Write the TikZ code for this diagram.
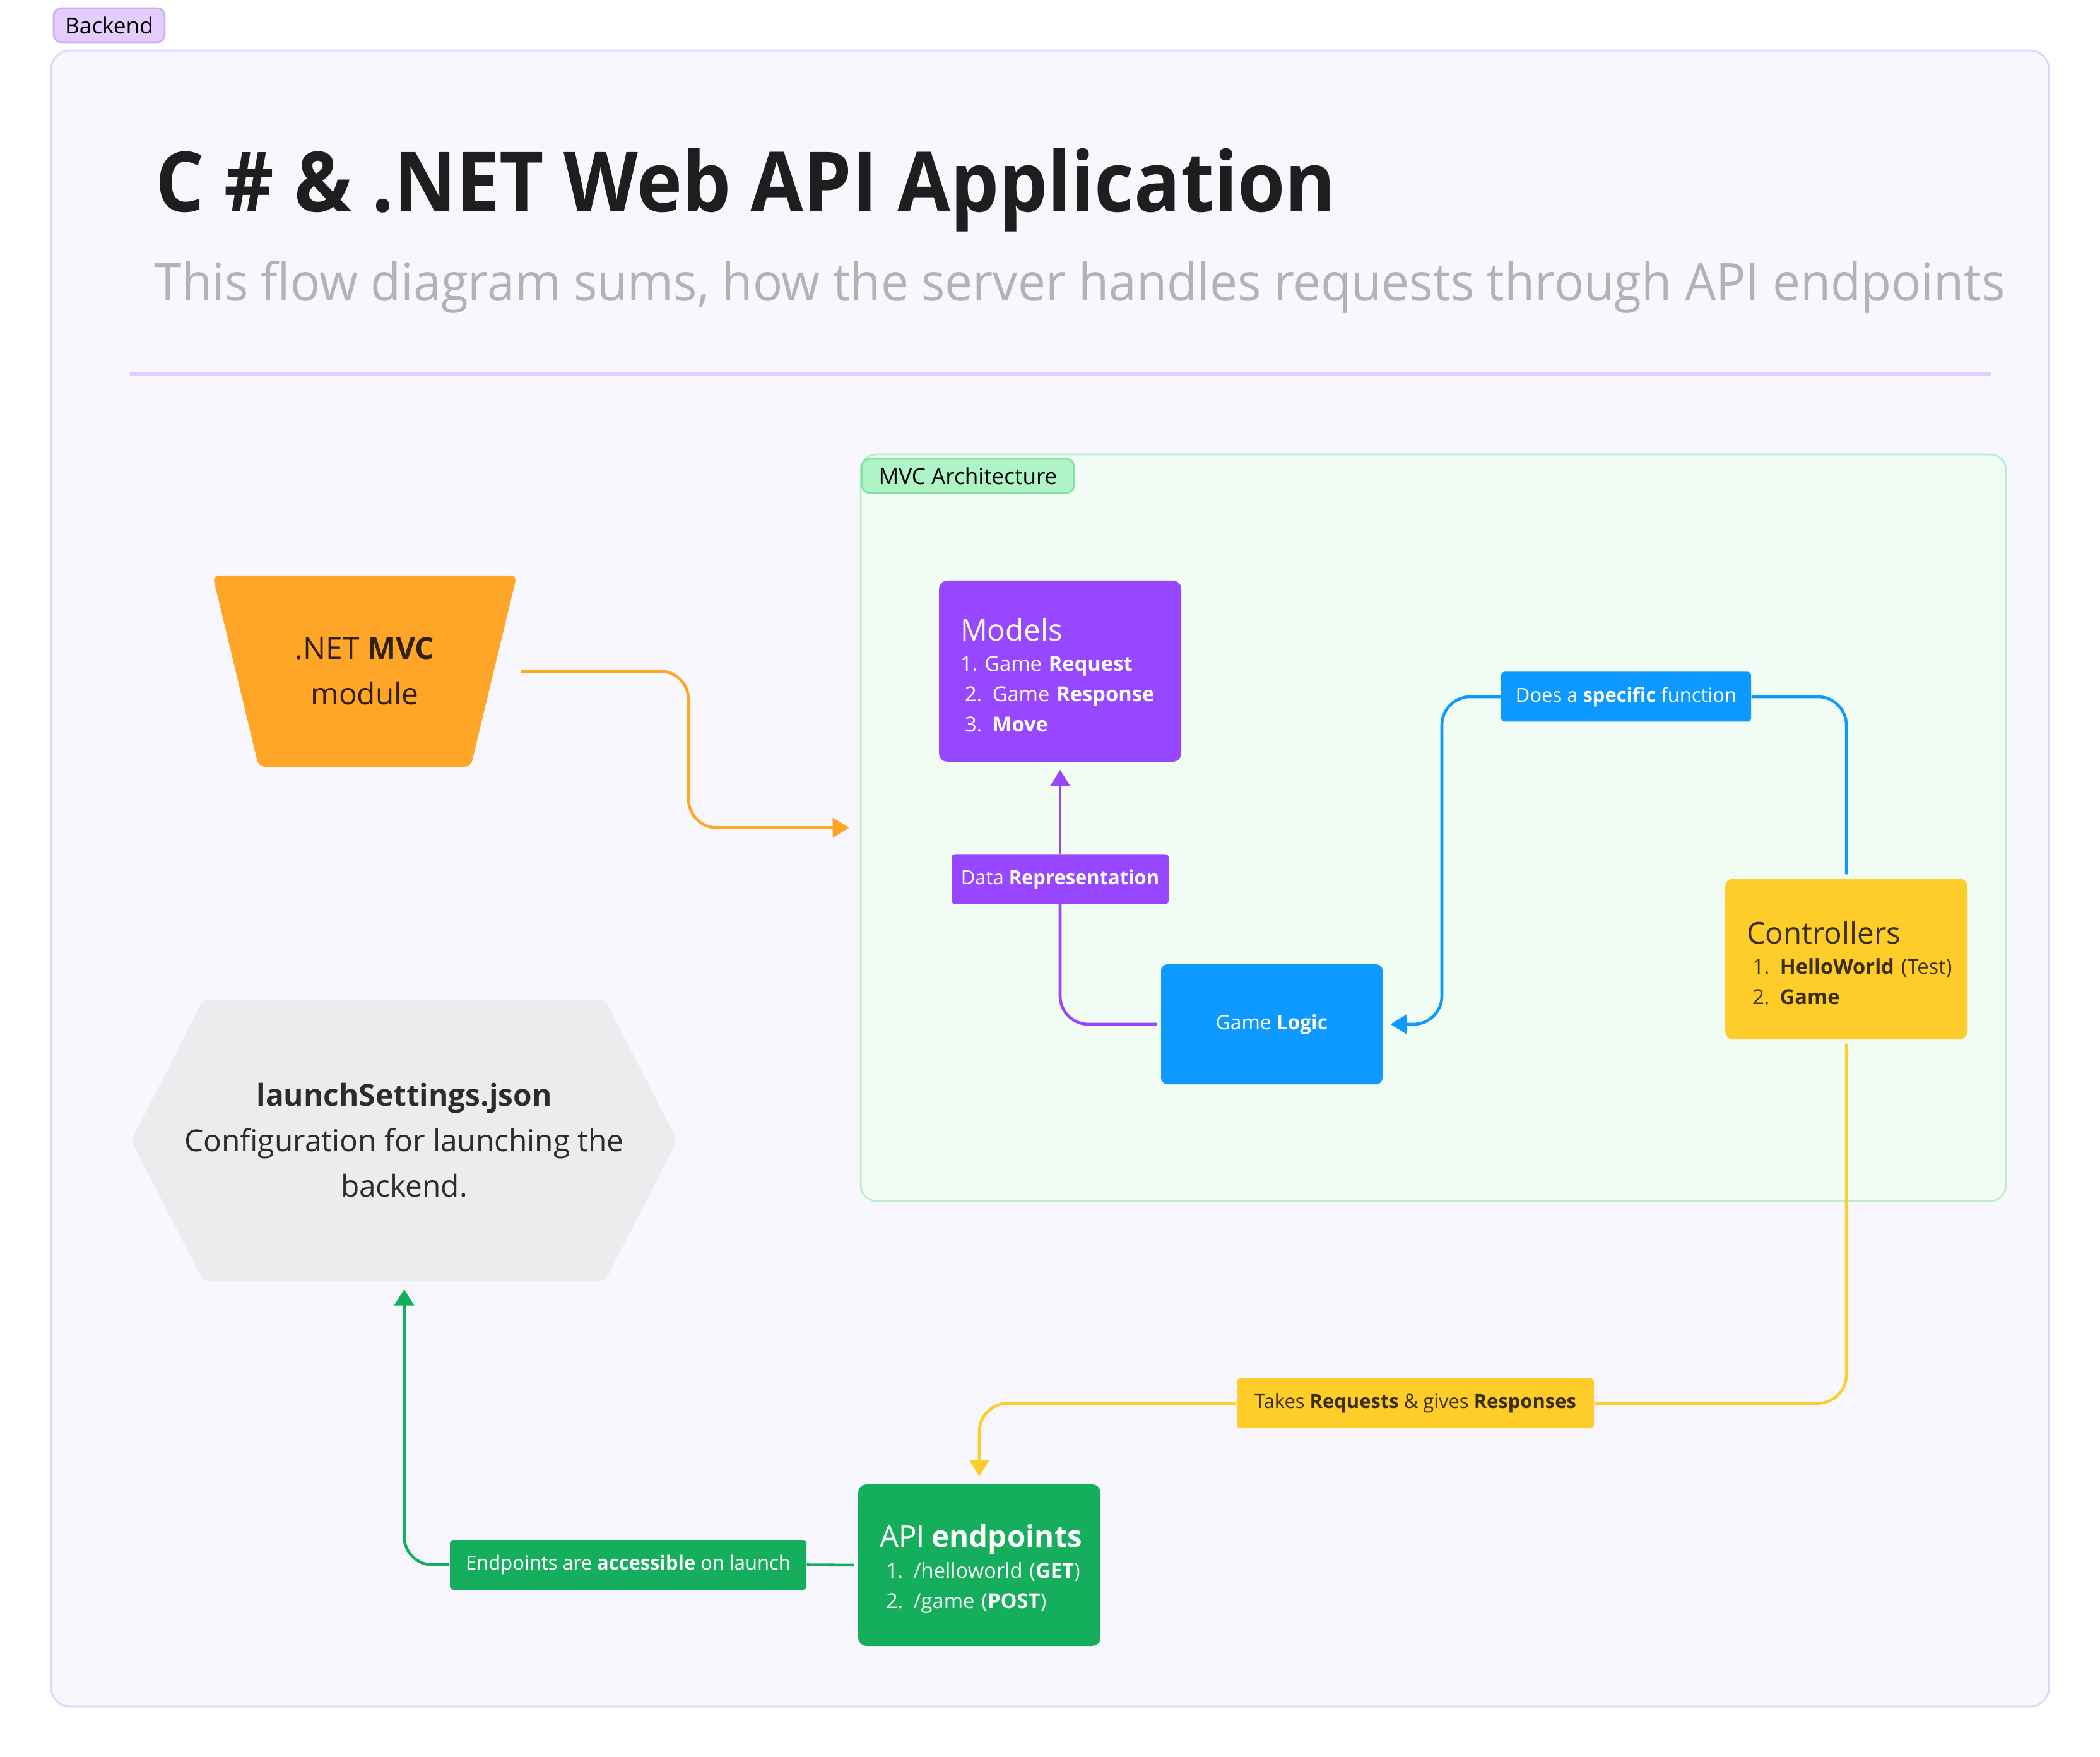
\documentclass[tikz,border=0pt]{standalone}
\usepackage{fontspec}
\setmainfont{Open Sans}
\usepackage{graphicx}
\usetikzlibrary{arrows.meta,calc}
\frenchspacing

\definecolor{lavbg}{HTML}{F9F7FE}
\definecolor{lavline}{HTML}{E3D2FB}
\definecolor{lavtag}{HTML}{E4CCFF}
\definecolor{lavtagline}{HTML}{CFAEF8}
\definecolor{mvcbg}{HTML}{F1FCF4}
\definecolor{mvcline}{HTML}{B8EFCA}
\definecolor{mvctag}{HTML}{AFF4C6}
\definecolor{mvctagline}{HTML}{8ADDA6}
\definecolor{orangebox}{HTML}{FFA629}
\definecolor{purplebox}{HTML}{9747FF}
\definecolor{bluebox}{HTML}{0D99FF}
\definecolor{yellowbox}{HTML}{FFCD29}
\definecolor{greenbox}{HTML}{14AE5C}
\definecolor{greybox}{HTML}{ECECEE}
\definecolor{titletext}{HTML}{1E1E1E}
\definecolor{subtext}{HTML}{B3B3B3}
\definecolor{darktext}{HTML}{2C2C2C}
\definecolor{yellowtext}{HTML}{3B2E0A}
\definecolor{orangetext}{HTML}{33200A}

\newcommand{\boxhead}{\fontsize{13.5}{13.7}\selectfont\rule{0pt}{0.48cm}}

\tikzset{
  boxnode/.style={rounded corners=0.13cm, inner ysep=0pt, minimum width=3.84cm},
  listbox/.style={boxnode, align=left, text width=3.16cm, inner xsep=0.34cm,
    font=\fontsize{9.3}{13.7}\selectfont},
  lbl/.style={rounded corners=0.05cm, inner sep=0pt, minimum height=0.79cm,
    font=\fontsize{8.8}{10}\selectfont},
  tagnode/.style={rounded corners=0.12cm, inner sep=0pt, minimum height=0.54cm,
    line width=0.8pt, font=\fontsize{10}{12}\selectfont},
  modshape/.style={inner sep=0pt, align=center, text=orangetext,
    font=\fontsize{13.6}{20.7}\selectfont,
    path picture={\fill[orangebox, rounded corners=0.1cm]
      (path picture bounding box.north west) -- (path picture bounding box.north east)
      -- ([xshift=-0.73cm]path picture bounding box.south east)
      -- ([xshift=0.73cm]path picture bounding box.south west) -- cycle;}},
  hexshape/.style={inner sep=0pt, align=center, text=darktext,
    font=\fontsize{13.6}{20.5}\selectfont,
    path picture={\fill[greybox, rounded corners=0.1cm]
      (path picture bounding box.west)
      -- ([xshift=1.14cm]path picture bounding box.north west)
      -- ([xshift=-1.14cm]path picture bounding box.north east)
      -- (path picture bounding box.east)
      -- ([xshift=-1.14cm]path picture bounding box.south east)
      -- ([xshift=1.14cm]path picture bounding box.south west) -- cycle;}},
  link/.style={line width=1.3pt, rounded corners=0.45cm},
  startgap/.style={shorten <=0.06cm},
  arrowend/.style={-{Triangle[length=0.26cm,width=0.31cm]}, shorten >=0.12cm},
}

\begin{document}
\begin{tikzpicture}
  % fundal
  \useasboundingbox (0,0) rectangle (33.28,-27.84);
  \fill[white] (0,0) rectangle (33.28,-27.84);

  % cadrul exterior
  \draw[lavline, fill=lavbg, line width=0.8pt, rounded corners=0.3cm]
    (0.81,-0.80) rectangle (32.47,-27.04);
  \node[tagnode, fill=lavtag, draw=lavtagline, minimum width=1.76cm] (backend)
    at (1.73,-0.40) {Backend};

  % titlul si subtitlul
  \node[anchor=base west, inner sep=0pt, text=titletext,
    font=\fontsize{37.5}{40}\selectfont\bfseries] (title) at (2.46,-3.36)
    {\resizebox{18.7cm}{\height}{C \# \& .NET Web API Application}};
  \node[anchor=base west, inner sep=0pt, text=subtext,
    font=\fontsize{23.5}{26}\selectfont] (subtitle) at (2.44,-4.77)
    {\resizebox{29.33cm}{\height}{This flow diagram sums, how the server handles requests through API endpoints}};
  \draw[lavtag, line width=1.7pt] (2.06,-5.92) -- (31.55,-5.92);

  % zona MVC
  \node[draw=mvcline, fill=mvcbg, line width=0.8pt, rounded corners=0.25cm,
    minimum width=18.15cm, minimum height=11.83cm, inner sep=0pt] (mvc)
    at (22.715,-13.115) {};
  \node[tagnode, fill=mvctag, draw=mvctagline, minimum width=3.36cm] (mvctag)
    at (15.34,-7.54) {MVC Architecture};

  % nodurile
  \node[modshape, minimum width=4.82cm, minimum height=3.03cm] (module)
    at (5.78,-10.635) {.NET \textbf{MVC}\\module};
  \node[hexshape, minimum width=8.65cm, minimum height=4.46cm] (launch)
    at (6.405,-18.07)
    {\textbf{launchSettings.json}\\Configuration for launching the\\backend.};
  \node[listbox, fill=purplebox, text=white, minimum height=2.87cm] (models)
    at (16.80,-10.635)
    {\mbox{\boxhead Models}\\
     \mbox{1. Game \textbf{Request}}\\
     \mbox{\hspace*{0.07cm}2.\, Game \textbf{Response}}\\
     \mbox{\hspace*{0.07cm}3.\, \textbf{Move}}};
  \node[boxnode, fill=bluebox, text=white, minimum width=3.51cm,
    minimum height=1.90cm, rounded corners=0.1cm,
    font=\fontsize{9}{11}\selectfont] (logic) at (20.155,-16.23)
    {Game \textbf{Logic}};
  \node[listbox, fill=yellowbox, text=yellowtext, minimum height=2.55cm] (ctrl)
    at (29.26,-15.195)
    {\mbox{\boxhead Controllers}\\
     \mbox{\hspace*{0.09cm}1.\, \textbf{HelloWorld} (Test)}\\
     \mbox{\hspace*{0.09cm}2.\, \textbf{Game}}};
  \node[listbox, fill=greenbox, text=white, minimum height=2.56cm] (api)
    at (15.52,-24.80)
    {\mbox{\boxhead API \textbf{endpoints}}\\
     \mbox{\hspace*{0.10cm}1.\, /helloworld (\textbf{GET})}\\
     \mbox{\hspace*{0.10cm}2.\, /game (\textbf{POST})}};

  % etichetele conectorilor
  \node[lbl, fill=purplebox, text=white, minimum width=3.44cm] (datarep)
    at (16.80,-13.93) {Data \textbf{Representation}};
  \node[lbl, fill=bluebox, text=white, minimum width=3.96cm] (func)
    at (25.77,-11.04) {Does a \textbf{specific} function};
  \node[lbl, fill=yellowbox, text=yellowtext, minimum width=5.66cm] (resp)
    at (22.43,-22.235) {Takes \textbf{Requests} \& gives \textbf{Responses}};
  \node[lbl, fill=greenbox, text=white, minimum width=5.65cm] (access)
    at (9.955,-24.795) {Endpoints are \textbf{accessible} on launch};

  % conectorii
  \coordinate (obend) at ($(module.east)!0.5!(mvc.west)$);
  \draw[link, startgap, arrowend, orangebox, shorten >=0.17cm]
    (module.east) -- (module.east -| obend) -- (obend |- mvc.west) -- (mvc.west);

  \coordinate (bbend) at ($(logic.east)!0.5!(func.west)$);
  \draw[link, startgap, bluebox] (ctrl.north) |- (func.east);
  \draw[link, arrowend, bluebox]
    (func.west) -- (func.west -| bbend) -- (bbend |- logic.east) -- (logic.east);

  \draw[link, startgap, purplebox] (logic.west) -| (datarep.south);
  \draw[link, arrowend, purplebox] (datarep.north) -- (models.south);

  \draw[link, startgap, yellowbox] (ctrl.south) |- (resp.east);
  \draw[link, arrowend, yellowbox] (resp.west) -| (api.north);

  \draw[link, startgap, greenbox] (api.west) -- (access.east);
  \draw[link, arrowend, greenbox] (access.west) -| (launch.south);
\end{tikzpicture}
\end{document}
